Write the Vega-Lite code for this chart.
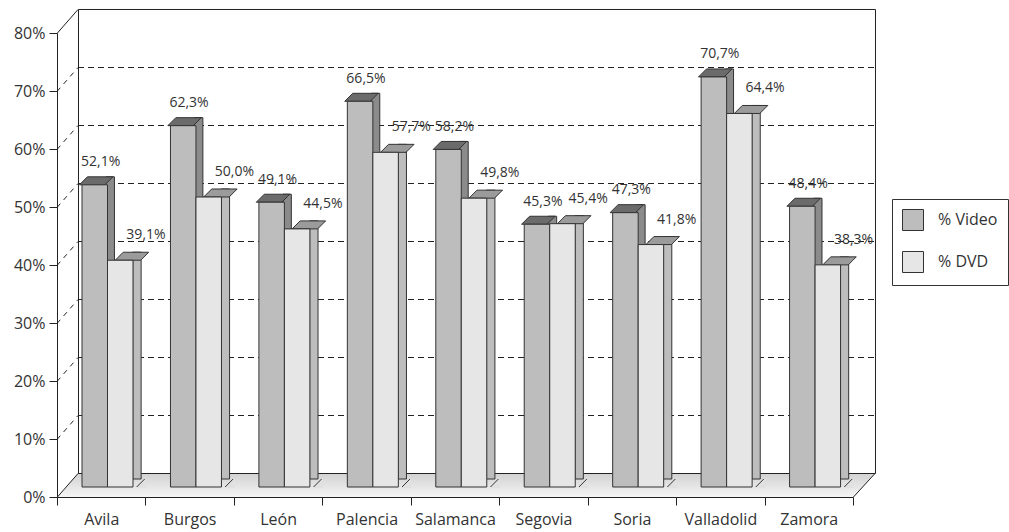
{
  "$schema": "https://vega.github.io/schema/vega-lite/v6.json",
  "width": 796,
  "height": 464,
  "autosize": {"type": "none"},
  "padding": {"left": 57, "top": 33, "right": 156, "bottom": 35},
  "background": "white",
  "config": {
    "view": {"stroke": null},
    "font": "Open Sans",
    "locale": {"number": {"decimal": ",", "thousands": ".", "grouping": [3], "currency": ["", " €"]}}
  },
  "layer": [
    {
      "data": {"values": [{"v": 0}]},
      "mark": {"type": "point", "shape": "M -0.94762 0 L 0.94762 0 L 1 -0.05714 L -0.89762 -0.05714 Z", "size": 705600, "filled": true, "opacity": 1, "yOffset": 0.5,
        "fill": {"gradient": "linear", "x1": 0, "y1": 0, "x2": 0, "y2": 1, "stops": [{"offset": 0, "color": "#d2d2d2"}, {"offset": 1, "color": "#f6f6f6"}]},
        "stroke": "#222", "strokeWidth": 1},
      "encoding": {"y": {"field": "v", "type": "quantitative", "scale": {"domain": [0, 0.8], "nice": false},
        "axis": {"title": null, "values": [0, 0.1, 0.2, 0.3, 0.4, 0.5, 0.6, 0.7, 0.8], "format": ".0%", "tickSize": 8, "tickColor": "#222", "domainColor": "#222", "labelFontSize": 16, "labelColor": "#333", "labelFont": "Open Sans", "labelPadding": 4, "grid": false}}}
    },
    {
      "data": {"values": [{"v": 0}]},
      "mark": {"type": "point", "shape": "M -0.76939 -0.04898 L 0.85714 -0.04898 L 0.85714 -0.99592 L -0.76939 -0.99592 Z", "size": 960400, "filled": false, "opacity": 1, "xOffset": 0.5, "yOffset": 0.5, "stroke": "#222", "strokeWidth": 1},
      "encoding": {"y": {"field": "v", "type": "quantitative", "scale": {"domain": [0, 0.8], "nice": false},
        "axis": {"title": null, "values": [0, 0.1, 0.2, 0.3, 0.4, 0.5, 0.6, 0.7, 0.8], "format": ".0%", "tickSize": 8, "tickColor": "#222", "domainColor": "#222", "labelFontSize": 16, "labelColor": "#333", "labelFont": "Open Sans", "labelPadding": 4, "grid": false}}}
    },
    {
      "data": {"values": [{"v": 0.1}, {"v": 0.2}, {"v": 0.3}, {"v": 0.4}, {"v": 0.5}, {"v": 0.6}, {"v": 0.7}]},
      "mark": {"type": "point", "shape": "M -0.89762 -0.05714 L 1 -0.05714", "size": 705600, "filled": false, "opacity": 1, "yOffset": 0.5, "stroke": "#222", "strokeWidth": 1, "strokeDash": [6, 4]},
      "encoding": {"y": {"field": "v", "type": "quantitative", "scale": {"domain": [0, 0.8], "nice": false},
        "axis": {"title": null, "values": [0, 0.1, 0.2, 0.3, 0.4, 0.5, 0.6, 0.7, 0.8], "format": ".0%", "tickSize": 8, "tickColor": "#222", "domainColor": "#222", "labelFontSize": 16, "labelColor": "#333", "labelFont": "Open Sans", "labelPadding": 4, "grid": false}}}
    },
    {
      "data": {"values": [{"v": 0.1}, {"v": 0.2}, {"v": 0.3}, {"v": 0.4}, {"v": 0.5}, {"v": 0.6}, {"v": 0.7}]},
      "mark": {"type": "point", "shape": "M -0.94762 0 L -0.89762 -0.05714", "size": 705600, "filled": false, "opacity": 1, "yOffset": 0.5, "stroke": "#222", "strokeWidth": 1, "strokeDash": [5, 5]},
      "encoding": {"y": {"field": "v", "type": "quantitative", "scale": {"domain": [0, 0.8], "nice": false},
        "axis": {"title": null, "values": [0, 0.1, 0.2, 0.3, 0.4, 0.5, 0.6, 0.7, 0.8], "format": ".0%", "tickSize": 8, "tickColor": "#222", "domainColor": "#222", "labelFontSize": 16, "labelColor": "#333", "labelFont": "Open Sans", "labelPadding": 4, "grid": false}}}
    },
    {
      "data": {"values": [{"v": 0.8}]},
      "mark": {"type": "point", "shape": "M -0.94762 0 L -0.89762 -0.05714", "size": 705600, "filled": false, "opacity": 1, "yOffset": 0.5, "stroke": "#222", "strokeWidth": 1},
      "encoding": {"y": {"field": "v", "type": "quantitative", "scale": {"domain": [0, 0.8], "nice": false},
        "axis": {"title": null, "values": [0, 0.1, 0.2, 0.3, 0.4, 0.5, 0.6, 0.7, 0.8], "format": ".0%", "tickSize": 8, "tickColor": "#222", "domainColor": "#222", "labelFontSize": 16, "labelColor": "#333", "labelFont": "Open Sans", "labelPadding": 4, "grid": false}}}
    },
    {
      "data": {"values": [
        {"region": "Avila", "series": "% Video", "value": 0.521},
        {"region": "Avila", "series": "% DVD", "value": 0.391},
        {"region": "Burgos", "series": "% Video", "value": 0.623},
        {"region": "Burgos", "series": "% DVD", "value": 0.500},
        {"region": "León", "series": "% Video", "value": 0.491},
        {"region": "León", "series": "% DVD", "value": 0.445},
        {"region": "Palencia", "series": "% Video", "value": 0.665},
        {"region": "Palencia", "series": "% DVD", "value": 0.577},
        {"region": "Salamanca", "series": "% Video", "value": 0.582},
        {"region": "Salamanca", "series": "% DVD", "value": 0.498},
        {"region": "Segovia", "series": "% Video", "value": 0.453},
        {"region": "Segovia", "series": "% DVD", "value": 0.454},
        {"region": "Soria", "series": "% Video", "value": 0.473},
        {"region": "Soria", "series": "% DVD", "value": 0.418},
        {"region": "Valladolid", "series": "% Video", "value": 0.707},
        {"region": "Valladolid", "series": "% DVD", "value": 0.644},
        {"region": "Zamora", "series": "% Video", "value": 0.484},
        {"region": "Zamora", "series": "% DVD", "value": 0.383}
      ]},
      "encoding": {
        "x": {"field": "region", "type": "nominal", "sort": null, "scale": {"paddingInner": 0, "paddingOuter": 0},
          "axis": {"title": null, "tickBand": "extent", "tickSize": 8, "tickColor": "#222", "domainColor": "#222", "labelFontSize": 16, "labelColor": "#333", "labelFont": "Open Sans", "labelPadding": 6, "labelAngle": 0, "labelOverlap": false, "grid": false}},
        "xOffset": {"field": "series", "type": "nominal", "scale": {"domain": ["% Video", "% DVD"], "paddingInner": 0, "paddingOuter": 0.734, "align": 0.668}},
        "y": {"field": "value", "type": "quantitative", "scale": {"domain": [0, 0.8], "nice": false},
          "axis": {"title": null, "values": [0, 0.1, 0.2, 0.3, 0.4, 0.5, 0.6, 0.7, 0.8], "format": ".0%", "tickSize": 8, "tickColor": "#222", "domainColor": "#222", "labelFontSize": 16, "labelColor": "#333", "labelFont": "Open Sans", "labelPadding": 4, "grid": false}}
      },
      "resolve": {"scale": {"xOffset": "independent"}},
      "layer": [
        {
          "mark": {"type": "bar", "yOffset": -18, "y2Offset": -10, "stroke": "#333", "strokeWidth": 1},
          "encoding": {
            "xOffset": {"field": "series", "type": "nominal", "scale": {"domain": ["% Video", "% DVD"], "paddingInner": 0.6863, "paddingOuter": 1.0772, "align": 0.9192}},
            "fill": {"condition": {"test": "datum.series === '% Video'", "value": "#8b8b8b"}, "value": "#bdbdbd"}}
        },
        {
          "transform": [{"filter": "datum.series === '% DVD'"}],
          "mark": {"type": "point", "shape": "M -0.4 0 L 0.4 -0.8 L 0.55 -0.8 L 0.55 0.1 L -0.4 0.1 Z", "size": 400, "filled": true, "opacity": 1, "fill": "#e1e1e1", "strokeWidth": 0, "yOffset": -10},
          "encoding": {
            "xOffset": {"field": "series", "type": "nominal", "scale": {"domain": ["% Video", "% DVD"], "paddingInner": 0.6863, "paddingOuter": 1.0772, "align": 0.9192}},
            "y": {"datum": 0}}
        },
        {
          "transform": [{"filter": "datum.series === '% DVD'"}],
          "mark": {"type": "point", "shape": "M -0.4 0 L 0.4 -0.8", "size": 400, "filled": false, "opacity": 1, "stroke": "#333", "strokeWidth": 1, "yOffset": -10},
          "encoding": {
            "xOffset": {"field": "series", "type": "nominal", "scale": {"domain": ["% Video", "% DVD"], "paddingInner": 0.6863, "paddingOuter": 1.0772, "align": 0.9192}},
            "y": {"datum": 0}}
        },
        {
          "mark": {"type": "point", "shape": "M -0.607 0 L 0.607 0 L 0.988 -0.381 L -0.226 -0.381 Z", "size": 1764, "filled": true, "opacity": 1, "yOffset": -10, "stroke": "#333", "strokeWidth": 1},
          "encoding": {"fill": {"condition": {"test": "datum.series === '% Video'", "value": "#6b6b6b"}, "value": "#9b9b9b"}}
        },
        {
          "mark": {"type": "bar", "yOffset": -10, "y2Offset": -10, "stroke": "#333", "strokeWidth": 1},
          "encoding": {"color": {"field": "series", "type": "nominal", "sort": ["% Video", "% DVD"], "scale": {"domain": ["% Video", "% DVD"], "range": ["#bdbdbd", "#e6e6e7"]},
            "legend": {"title": null, "orient": "none", "legendX": 835, "legendY": 166, "symbolType": "square", "symbolSize": 441, "symbolStrokeColor": "#333", "symbolStrokeWidth": 1, "symbolOpacity": 1, "labelFontSize": 16, "labelColor": "#333", "labelFont": "Open Sans", "labelOffset": 14, "rowPadding": 16, "padding": 10, "strokeColor": "#333", "fillColor": "white"}}}
        },
        {
          "transform": [{"filter": "datum.series === '% Video'"}],
          "mark": {"type": "text", "dx": 8.5, "dy": -28.5, "baseline": "alphabetic", "align": "center", "fontSize": 14, "font": "Open Sans", "color": "#333"},
          "encoding": {"text": {"field": "value", "type": "quantitative", "format": ".1%"}}
        },
        {
          "transform": [{"filter": "datum.series === '% DVD'"}],
          "mark": {"type": "text", "dx": 18, "dy": -31, "baseline": "alphabetic", "align": "center", "fontSize": 14, "font": "Open Sans", "color": "#333"},
          "encoding": {"text": {"field": "value", "type": "quantitative", "format": ".1%"}}
        }
      ]
    }
  ]
}
